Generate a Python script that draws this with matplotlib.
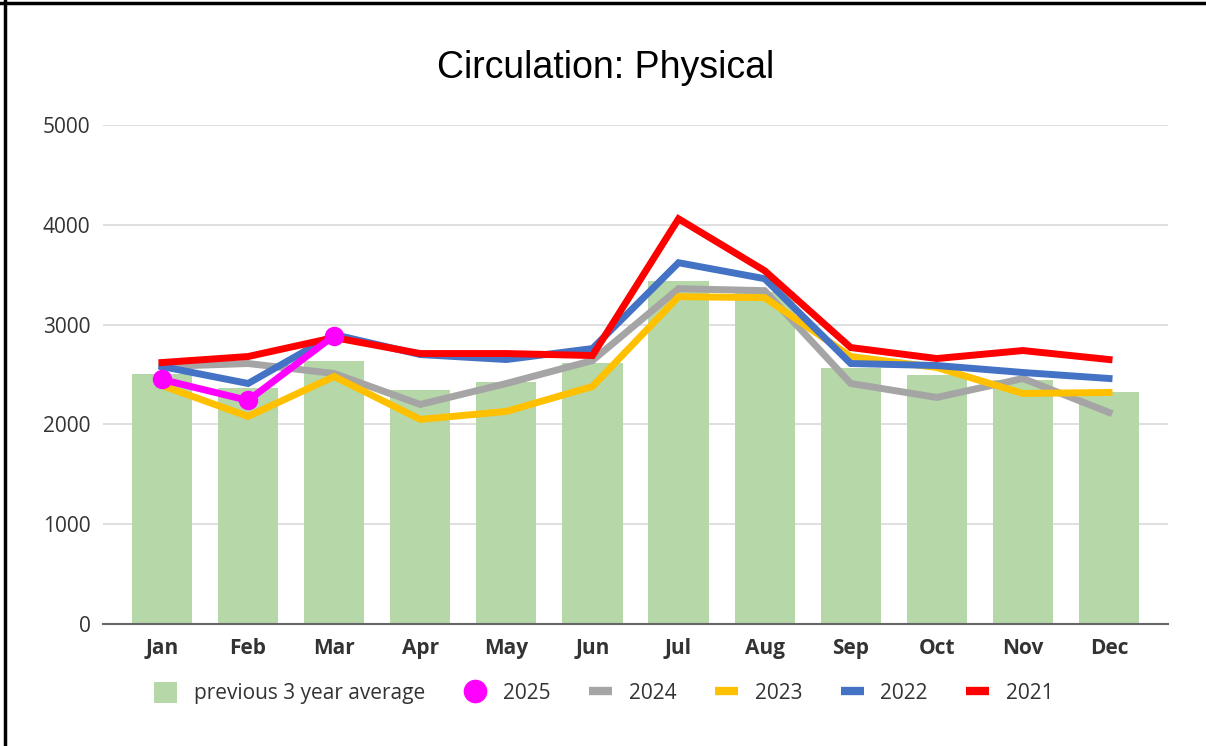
import matplotlib

matplotlib.use("Agg")
import matplotlib.pyplot as plt
import numpy as np
from matplotlib.lines import Line2D
from matplotlib.patches import Patch

months = ["Jan", "Feb", "Mar", "Apr", "May", "Jun", "Jul", "Aug", "Sep", "Oct", "Nov", "Dec"]
avg_3yr = [2510, 2360, 2640, 2340, 2420, 2620, 3440, 3330, 2570, 2500, 2440, 2320]
y2025 = [2450, 2240, 2890]
y2024 = [2580, 2610, 2510, 2200, 2410, 2640, 3360, 3340, 2410, 2270, 2460, 2120]
y2023 = [2390, 2080, 2480, 2050, 2130, 2380, 3280, 3270, 2680, 2570, 2310, 2320]
y2022 = [2580, 2410, 2900, 2700, 2650, 2760, 3620, 3460, 2610, 2590, 2520, 2460]
y2021 = [2620, 2680, 2870, 2710, 2710, 2690, 4060, 3540, 2770, 2660, 2740, 2650]

W, H = 1206, 746
fig = plt.figure(figsize=(W / 100, H / 100), dpi=100)
ax = fig.add_axes([103 / W, 1 - 624 / H, (1168 - 103) / W, (624 - 125) / H])

x = np.arange(len(months))
ax.bar(x, avg_3yr, width=0.7, color="#b6d7a8", zorder=2)
ax.plot(x, y2024, color="#a5a5a5", lw=5, zorder=3, solid_joinstyle="miter")
ax.plot(x, y2023, color="#ffc000", lw=5, zorder=4, solid_joinstyle="miter")
ax.plot(x, y2022, color="#4472c4", lw=5, zorder=5, solid_joinstyle="miter")
ax.plot(x, y2021, color="#ff0000", lw=5, zorder=6, solid_joinstyle="miter")
ax.plot(x[:len(y2025)], y2025, color="#ff00ff", lw=5, marker="o", ms=13, zorder=7)

ax.set_xlim(-0.685, 11.685)
ax.set_ylim(0, 5000)
ax.set_yticks(range(0, 5001, 1000))
ax.set_xticks(x)
ax.set_xticklabels(months, fontfamily="Open Sans", fontweight="bold", fontsize=15, color="#333333")
for lab in ax.get_yticklabels():
    lab.set_fontfamily("Open Sans")
    lab.set_fontsize(15)
    lab.set_color("#333333")
ax.tick_params(axis="both", length=0)
ax.tick_params(axis="y", pad=9)
ax.tick_params(axis="x", pad=10)
ax.grid(axis="y", color="#d9d9d9", lw=1.2, zorder=0)
for s in ["top", "right", "left"]:
    ax.spines[s].set_visible(False)
ax.spines["bottom"].set_color("#666666")
ax.spines["bottom"].set_linewidth(1.5)
ax.spines["bottom"].set_zorder(8)

fig.text(606 / W, 1 - 68 / H, "Circulation: Physical", ha="center", va="center",
         fontfamily="Liberation Sans", fontsize=27)

handles = [
    Patch(facecolor="#b6d7a8", label="previous 3 year average"),
    Line2D([], [], color="#ff00ff", marker="o", ls="none", ms=16, label="2025"),
    Line2D([], [], color="#a5a5a5", lw=6, solid_capstyle="butt", label="2024"),
    Line2D([], [], color="#ffc000", lw=6, solid_capstyle="butt", label="2023"),
    Line2D([], [], color="#4472c4", lw=6, solid_capstyle="butt", label="2022"),
    Line2D([], [], color="#ff0000", lw=6, solid_capstyle="butt", label="2021"),
]
leg = fig.legend(handles=handles, loc="center", bbox_to_anchor=(604 / W, 1 - 693 / H), ncol=6,
                 frameon=False, handlelength=1.1, handleheight=1.2, columnspacing=1.85, handletextpad=0.8,
                 prop={"family": "Open Sans", "size": 15})
for t in leg.get_texts():
    t.set_color("#333333")

# partial frame of the screenshot (top and left edges)
fig.add_artist(Line2D([5 / W, 5 / W], [0, 1], color="black", lw=2.5, transform=fig.transFigure))
fig.add_artist(Line2D([0, 1], [1 - 3 / H, 1 - 3 / H], color="black", lw=2.5, transform=fig.transFigure))

fig.savefig("out.png", dpi=100)
